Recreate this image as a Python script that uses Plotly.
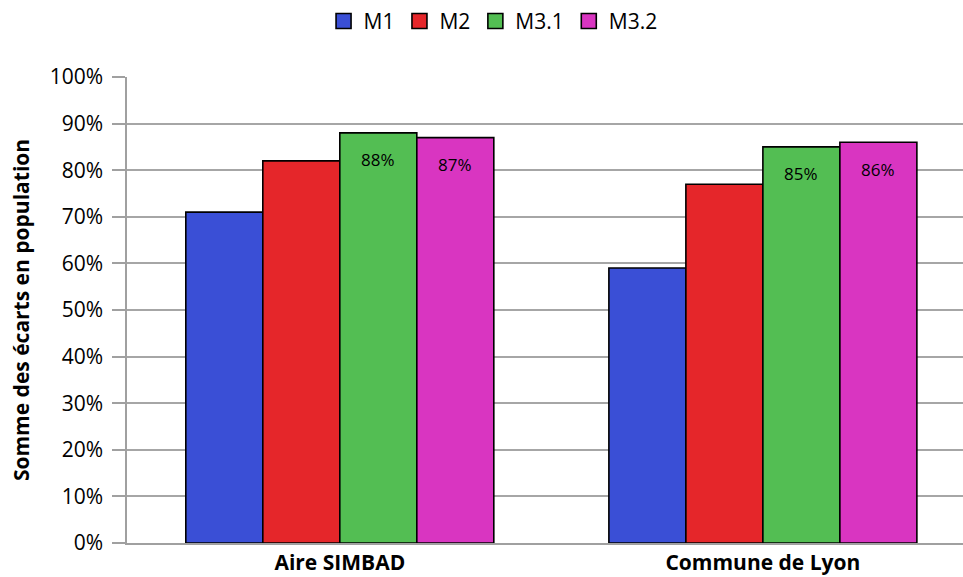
import plotly.graph_objects as go

categories = ["Aire SIMBAD", "Commune de Lyon"]
series_names = ["M1", "M2", "M3.1", "M3.2"]
m1 = [71, 59]
m2 = [82, 77]
m31 = [88, 85]
m32 = [87, 86]
values = [m1, m2, m31, m32]
colors = ["#3a4fd6", "#e5262a", "#53be53", "#d935c1"]
show_labels = [False, False, True, True]
y_ticks = [0, 10, 20, 30, 40, 50, 60, 70, 80, 90, 100]

FONT = "Open Sans"
bargap = 0.272

fig = go.Figure()
xpos = list(range(len(categories)))
for name, vals, col in zip(series_names, values, colors):
    fig.add_trace(go.Bar(
        x=xpos, y=vals, name=name, showlegend=False,
        marker=dict(color=col, line=dict(color="black", width=1.6)),
    ))
    # legend proxy (square swatch)
    fig.add_trace(go.Scatter(
        x=[None], y=[None], name=name, mode="markers",
        marker=dict(symbol="square", size=15, color=col, line=dict(color="black", width=1.6)),
    ))

w = (1 - bargap) / len(series_names)
for j, (vals, lab) in enumerate(zip(values, show_labels)):
    if not lab:
        continue
    for i, v in enumerate(vals):
        fig.add_annotation(
            x=i + (j - (len(series_names) - 1) / 2) * w, y=v, xref="x", yref="y",
            text=f"{v}%", showarrow=False, yshift=-27,
            font=dict(family=FONT, size=17, color="black"),
        )

fig.update_layout(
    width=963, height=577,
    margin=dict(l=127, r=0, t=77, b=34, autoexpand=False),
    paper_bgcolor="white", plot_bgcolor="white",
    barmode="group", bargap=bargap, bargroupgap=0,
    font=dict(family=FONT, color="black"),
    legend=dict(orientation="h", xref="container", x=0.512, xanchor="center",
                yref="container", y=0.963, yanchor="middle",
                font=dict(family=FONT, size=21), traceorder="normal",
                itemwidth=30, tracegroupgap=0),
    showlegend=True,
)
fig.update_xaxes(
    range=[-0.503, 1.473], tickvals=xpos, ticktext=[f"<b>{c}</b>" for c in categories],
    tickfont=dict(family=FONT, size=21, color="black"),
    showline=True, linecolor="#a0a0a0", linewidth=1.5, ticks="", showgrid=False,
    zeroline=False, automargin=False, ticklabelstandoff=0,
)
fig.update_yaxes(
    range=[0, 100], tickvals=y_ticks, ticktext=[f"{t}%" for t in y_ticks],
    tickfont=dict(family=FONT, size=21, color="black"),
    showline=True, linecolor="#a0a0a0", linewidth=1.5,
    ticks="outside", ticklen=13, tickcolor="#a0a0a0", tickwidth=1.5,
    showgrid=True, gridcolor="#a6a6a6", gridwidth=1.5, zeroline=False, automargin=False,
    ticklabelstandoff=5,
    title=dict(text="<b>Somme des écarts en population</b>", font=dict(family=FONT, size=21),
               standoff=14),
)

fig.write_html(
    "out.html",
    config={"displayModeBar": False},
    post_script="document.body.style.margin='0';document.body.style.overflow='hidden';",
)
